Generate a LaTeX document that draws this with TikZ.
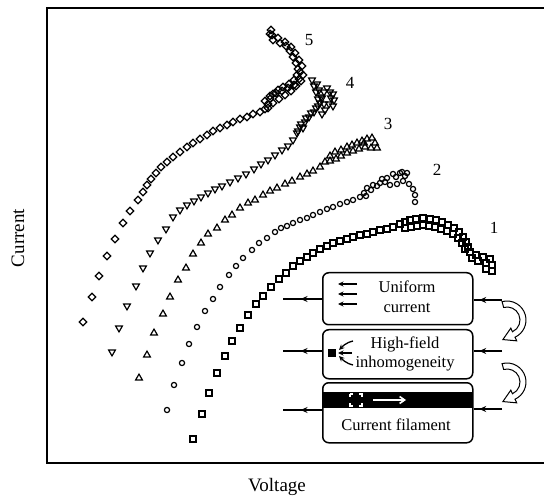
\documentclass[tikz,border=0pt]{standalone}
\usepackage{fontspec}
\setmainfont{Liberation Serif}
\usetikzlibrary{arrows.meta,decorations.markings,calc,plotmarks}
\begin{document}
\begin{tikzpicture}[x=1pt,y=1pt,
  mk/.style={line width=1.2pt},
  boxst/.style={draw,line width=1.5pt,rounded corners=6pt,minimum width=150pt,inner sep=0pt,anchor=north west},
  boxtxt/.style={font=\fontsize{16.5}{19.5}\selectfont,align=center,inner sep=0pt},
  lbl/.style={font=\fontsize{17}{20}\selectfont,inner sep=0pt},
  axlbl/.style={font=\fontsize{19}{22}\selectfont,inner sep=0pt},
  smallarr/.style={line width=1.3pt,-{Stealth[length=5.5pt,width=5pt]}},
  midarrL/.style={line width=1.1pt,postaction={decorate},decoration={markings,mark=at position 0.55 with {\arrow{Stealth[length=7pt,width=6pt]}}}},
  midarrR/.style={line width=1.1pt,postaction={decorate},decoration={markings,mark=at position 0.8 with {\arrow{Stealth[length=7pt,width=6pt]}}}},
  hollow/.style={draw,line width=1pt,fill=white,line join=miter}
]
\useasboundingbox (0,0) rectangle (544,-497);
% frame
\draw[line width=1.8pt] (544,-8) -- (47,-8) -- (47,-463) -- (544,-463);
% axis labels
\node[axlbl,rotate=90] (ylab) at (18,-238) {Current};
\node[axlbl] (xlab) at (277,-487) {Voltage};
% curve 1 squares
\draw[mk] plot[only marks,mark=square,mark size=3pt] coordinates {
(193,-439)(202,-414)(209,-393)(217,-373)(225,-356)(232,-341)(240,-328)(248,-315)(256,-304)(263,-296)(271,-287)(279,-279)(286,-273)(293,-266)(300,-261)(307,-257)(313,-253)(320,-249)(327,-246)(333,-243)(340,-241)(347,-239)(353,-237)(360,-235)(367,-234)(373,-232)(380,-230)(387,-229)(393,-227)(400,-224)(405,-222)(410,-220)(416,-219)(423,-218)(430,-219)(436,-220)(442,-222)(448,-225)(454,-228)(459,-232)(463,-237)(466,-242)(468,-247)(470,-252)(476,-255)(483,-257)(490,-259)(492,-265)(492,-271)
(405,-228)(411,-227)(417,-226)(423,-225)(429,-226)(435,-227)(441,-229)(447,-231)(453,-234)(458,-238)(462,-243)(465,-249)(472,-258)(478,-261)(486,-263)(486,-269)};
% curve 2 circles
\draw[mk] plot[only marks,mark=o,mark size=2.6pt] coordinates {
(167,-410)(174,-385)(182,-363)(189,-344)(197,-327)(205,-311)(213,-299)(220,-287)(229,-275)(236,-266)(243,-258)(252,-250)(259,-243)(267,-238)(275,-232)(281,-228)(287,-226)(293,-223)(300,-220)(307,-218)(313,-215)(320,-212)(327,-209)(333,-207)(340,-204)(347,-202)(353,-200)(360,-197)(364,-193)(367,-188)(373,-185)(380,-183)(387,-178)(393,-174)(400,-173)(405,-176)(403,-181)(397,-184)(390,-185)(409,-184)(413,-189)(415,-195)(415,-202)(385,-182)(377,-186)(396,-177)(366,-196)(371,-190)(382,-179)(402,-172)(407,-173)};
% curve 3 up triangles
\draw[mk] plot[only marks,mark=triangle,mark size=3.9pt] coordinates {
(139,-378)(147,-355)(154,-333)(163,-314)(170,-297)(178,-280)(186,-268)(193,-254)(201,-243)(208,-234)(217,-228)(225,-220)(232,-215)(240,-208)(248,-203)(255,-200)(263,-195)(270,-191)(277,-188)(285,-184)(292,-181)(300,-177)(307,-174)(313,-171)(320,-167)(325,-162)(330,-156)(335,-152)(341,-150)(347,-147)(352,-145)(357,-143)(362,-141)(367,-139)(372,-138)(375,-143)(377,-148)(371,-148)(365,-147)(359,-149)(353,-151)(347,-153)(341,-156)(336,-159)(330,-161)(364,-143)};
% curve 4 down triangles
\draw[mk] plot[only marks,mark=triangle,mark size=3.9pt,mark options={rotate=180}] coordinates {
(112,-352)(119,-328)(127,-306)(136,-286)(143,-268)(150,-253)(158,-240)(166,-229)(173,-217)(180,-210)(187,-205)(194,-201)(201,-197)(208,-193)(215,-189)(222,-186)(230,-182)(238,-178)(246,-174)(254,-169)(261,-164)(268,-160)(275,-155)(282,-150)(288,-146)(293,-140)(297,-133)(300,-127)(305,-122)(309,-117)(314,-112)(318,-106)(318,-99)(316,-92)(314,-86)(312,-80)(325,-110)(329,-104)(331,-98)(330,-92)(327,-88)(322,-114)(303,-128)(298,-131)
(301,-124)(306,-118)(311,-113)(316,-108)(320,-103)(321,-97)(319,-90)(317,-84)(333,-106)(334,-100)(333,-94)(324,-92)(322,-98)(324,-104)};
% curve 5 diamonds
\draw[mk] plot[only marks,mark=diamond,mark size=3.8pt,mark options={xscale=1.3}] coordinates {
(83,-322)(92,-297)(99,-276)(107,-256)(115,-239)(123,-223)(130,-211)(138,-200)(143,-192)(147,-185)(151,-179)(156,-173)(161,-167)(167,-162)(173,-157)(180,-152)(187,-147)(193,-143)(200,-139)(207,-135)(213,-131)(220,-128)(227,-125)(233,-122)(240,-119)(247,-117)(253,-114)(260,-112)(265,-109)(268,-104)(270,-99)(273,-94)(278,-90)(283,-87)(289,-84)(294,-80)(297,-75)(298,-69)(296,-63)(293,-57)(290,-51)(286,-46)(280,-43)(273,-40)(270,-34)(271,-30)(265,-101)(270,-96)(276,-93)(282,-91)(288,-88)(294,-85)(299,-79)(300,-72)
(268,-108)(273,-103)(279,-99)(285,-95)(291,-91)(296,-86)(301,-81)(303,-75)(302,-66)(299,-60)(295,-53)(291,-47)(285,-42)(278,-38)(272,-35)};
% curve labels
\node[lbl] (n5) at (309,-40) {5};
\node[lbl] (n4) at (350,-83) {4};
\node[lbl] (n3) at (388,-124) {3};
\node[lbl] (n2) at (437,-170) {2};
\node[lbl] (n1) at (494,-228) {1};
% boxes
\node[boxst,minimum height=52pt] (b1) at (322,-272) {};
\node[boxst,minimum height=49pt] (b2) at (322,-329) {};
\node[boxst,minimum height=60pt] (b3) at (322,-382) {};
% band in box 3
\fill[black] (322,-392) rectangle (472,-408);
\draw[white,line width=1.6pt,dash pattern=on 6pt off 6pt,dash phase=3pt] (350,-394) rectangle (362,-406);
\draw[white,line width=1.6pt,-{Straight Barb[length=5pt,width=7pt]}] (373,-400) -- (406,-400);
% box texts
\node[boxtxt] (t1) at (407,-297) {Uniform\\current};
\node[boxtxt] (t2) at (405,-354) {High-field\\inhomogeneity};
\node[boxtxt] (t3) at (396,-425) {Current filament};
% arrows in box 1
\draw[smallarr] (357,-284) -- (338,-284);
\draw[smallarr] (357,-294) -- (338,-294);
\draw[smallarr] (357,-304) -- (338,-304);
% box 2 square and arrows
\fill (328,-349) rectangle (336,-357);
\draw[smallarr] (353,-341) .. controls (345,-343) and (342,-347) .. (339,-350);
\draw[smallarr] (352,-353) -- (338,-353);
\draw[smallarr] (353,-365) .. controls (345,-363) and (342,-359) .. (339,-356);
% side arrows
\coordinate (l1) at (283,-299);
\coordinate (l2) at (283,-351);
\coordinate (l3) at (283,-410);
\coordinate (r1) at (502,-300);
\coordinate (r2) at (502,-351);
\coordinate (r3) at (502,-409);
\draw[midarrL] (b1.west |- l1) -- (l1);
\draw[midarrL] (b2.west |- l2) -- (l2);
\draw[midarrL] (b3.west |- l3) -- (l3);
\draw[midarrR] (r1) -- (b1.east |- r1);
\draw[midarrR] (r2) -- (b2.east |- r2);
\draw[midarrR] (r3) -- (b3.east |- r3);
% hollow curved arrows
\foreach \cy in {-320,-382}{
  \coordinate (C) at (507,\cy);
  \draw[hollow] ($(C)+(105:19)$) arc[start angle=105,end angle=-65,radius=19]
    -- ($(C)+(-65:23)$) -- ($(C)+(-65:16)+(-155:12)$) -- ($(C)+(-65:9)$)
    -- ($(C)+(-65:13)$) arc[start angle=-65,end angle=105,radius=13] -- cycle;
}
\end{tikzpicture}
\end{document}
